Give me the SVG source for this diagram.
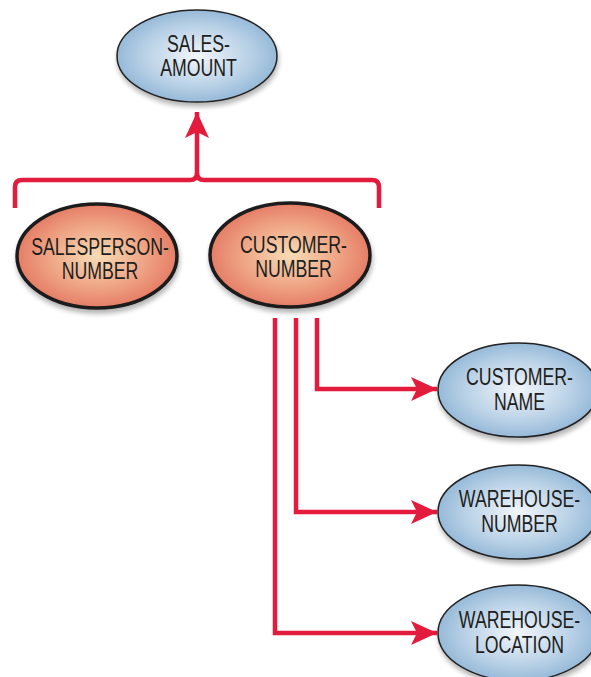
<svg xmlns="http://www.w3.org/2000/svg" width="591" height="677" viewBox="0 0 591 677">
<defs>
<radialGradient id="blue" cx="0.5" cy="0.5" r="0.55">
<stop offset="0" stop-color="#f2f6fa"/>
<stop offset="0.6" stop-color="#b9d1e6"/>
<stop offset="1" stop-color="#8cb3d5"/>
</radialGradient>
<radialGradient id="orange" cx="0.5" cy="0.5" r="0.55">
<stop offset="0" stop-color="#f6dcb6"/>
<stop offset="0.6" stop-color="#ee9f80"/>
<stop offset="1" stop-color="#e2735f"/>
</radialGradient>
<filter id="sh" x="-20%" y="-20%" width="140%" height="150%">
<feGaussianBlur in="SourceAlpha" stdDeviation="2.5"/>
<feOffset dx="1" dy="4" result="b"/>
<feComponentTransfer><feFuncA type="linear" slope="0.3"/></feComponentTransfer>
<feMerge><feMergeNode/><feMergeNode in="SourceGraphic"/></feMerge>
</filter>
<marker id="ah" viewBox="0 0 26 24" refX="26" refY="12" markerWidth="26" markerHeight="24" markerUnits="userSpaceOnUse" orient="auto">
<path d="M0 0 L26 12 L0 24 L6 12 Z" fill="#e31b3c"/>
</marker>
</defs>
<style>
.b{fill:url(#blue);stroke:#222;stroke-width:1.5;filter:url(#sh)}
.o{fill:url(#orange);stroke:#1a1a1a;stroke-width:3.5;filter:url(#sh)}
.t{font-family:"Liberation Sans",Arial,sans-serif;font-size:23px;fill:#1e1e1e;text-anchor:middle}
.c{fill:none;stroke:#e31b3c;stroke-width:4.5}
</style>
<g id="connectors">
<path class="c" d="M15 208 V187 Q15 180 22 180 H190 Q197 180 197 173 V112" marker-end="url(#ah)"/>
<path class="c" d="M379 208 V187 Q379 180 372 180 H204 Q197 180 197 173"/>
<path class="c" d="M317 318 V389 H437" marker-end="url(#ah)"/>
<path class="c" d="M296 318 V512 H437" marker-end="url(#ah)"/>
<path class="c" d="M275 318 V633 H437" marker-end="url(#ah)"/>
</g>
<g id="sales-amount">
<ellipse class="b" cx="197" cy="56" rx="80" ry="46"/>
<text class="t" transform="matrix(0.77 0 0 1 198.5 0)" y="52">SALES-</text>
<text class="t" transform="matrix(0.77 0 0 1 198.5 0)" y="76">AMOUNT</text>
</g>
<g id="salesperson-number">
<ellipse class="o" cx="97" cy="256" rx="80" ry="52"/>
<text class="t" transform="matrix(0.77 0 0 1 100 0)" y="255">SALESPERSON-</text>
<text class="t" transform="matrix(0.77 0 0 1 100 0)" y="279.5">NUMBER</text>
</g>
<g id="customer-number">
<ellipse class="o" cx="290" cy="255" rx="80" ry="52"/>
<text class="t" transform="matrix(0.77 0 0 1 293.5 0)" y="253">CUSTOMER-</text>
<text class="t" transform="matrix(0.77 0 0 1 293.5 0)" y="277.5">NUMBER</text>
</g>
<g id="customer-name">
<ellipse class="b" cx="518" cy="390" rx="80" ry="47"/>
<text class="t" transform="matrix(0.77 0 0 1 519.5 0)" y="385">CUSTOMER-</text>
<text class="t" transform="matrix(0.77 0 0 1 519.5 0)" y="410">NAME</text>
</g>
<g id="warehouse-number">
<ellipse class="b" cx="518" cy="512" rx="80" ry="47"/>
<text class="t" transform="matrix(0.77 0 0 1 519.5 0)" y="507">WAREHOUSE-</text>
<text class="t" transform="matrix(0.77 0 0 1 519.5 0)" y="532">NUMBER</text>
</g>
<g id="warehouse-location">
<ellipse class="b" cx="518" cy="633" rx="80" ry="48"/>
<text class="t" transform="matrix(0.77 0 0 1 519.5 0)" y="628">WAREHOUSE-</text>
<text class="t" transform="matrix(0.77 0 0 1 519.5 0)" y="653">LOCATION</text>
</g>
</svg>
